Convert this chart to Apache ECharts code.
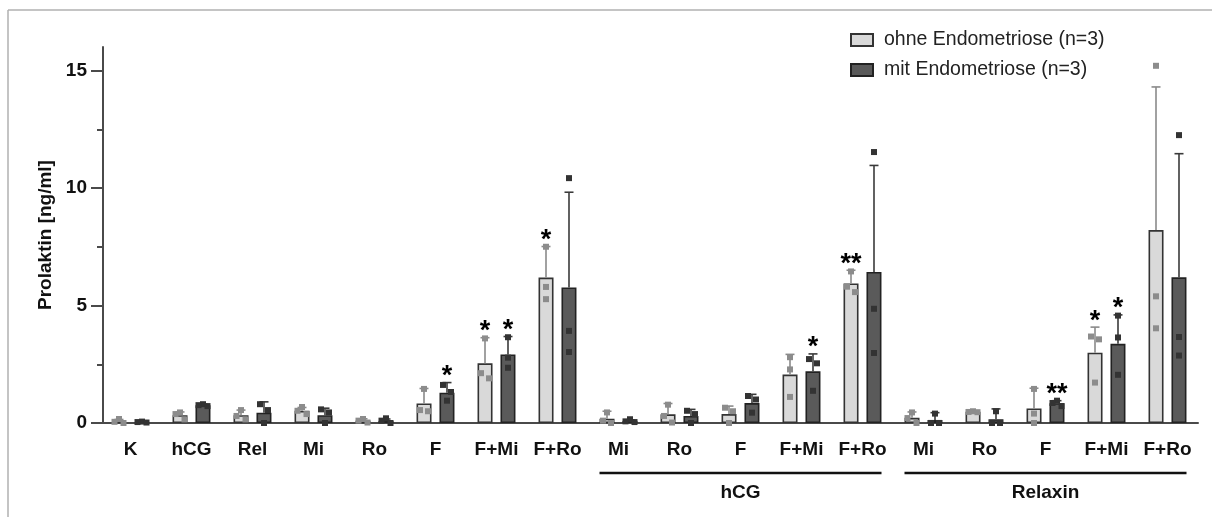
<!DOCTYPE html>
<html><head><meta charset="utf-8">
<script src="https://cdn.jsdelivr.net/npm/echarts@6/dist/echarts.min.js"></script>
<style>html,body{margin:0;padding:0;background:#fff}#c{width:1212px;height:517px}</style>
</head><body><div id="c"></div>
<script>
// ---- data ----
const categories = ['K','hCG','Rel','Mi','Ro','F','F+Mi','F+Ro','Mi','Ro','F','F+Mi','F+Ro','Mi','Ro','F','F+Mi','F+Ro'];
const seriesNames = ['ohne Endometriose (n=3)', 'mit Endometriose (n=3)'];
const yTicks = [0, 5, 10, 15];
const yMinorTicks = [2.5, 7.5, 12.5];

const lightMean = [0.05, 0.33, 0.33, 0.52, 0.10, 0.83, 2.54, 6.19, 0.18, 0.37, 0.38, 2.06, 5.94, 0.22, 0.48, 0.62, 2.99, 8.21];
const lightErrTop = [0.15, 0.47, 0.55, 0.66, 0.18, 1.47, 3.63, 7.51, 0.50, 0.83, 0.72, 2.92, 6.50, 0.47, 0.52, 1.48, 4.08, 14.30];
const lightPoints = [[0.17,0.05,0.00],[0.45,0.38,0.15],[0.55,0.30,0.15],[0.68,0.52,0.38],[0.17,0.10,0.02],[1.45,0.55,0.50],[3.60,2.12,1.90],[7.50,5.79,5.27],[0.45,0.10,0.00],[0.78,0.30,0.02],[0.65,0.50,0.00],[2.80,2.28,1.11],[6.45,5.80,5.57],[0.45,0.21,0.00],[0.50,0.47,0.46],[1.45,0.40,0.00],[3.68,3.56,1.72],[15.20,5.39,4.03]];
const lightStars = ['','','','','','','*','*','','','','','**','','','','*',''];

const darkMean = [0.04, 0.76, 0.44, 0.33, 0.09, 1.29, 2.92, 5.77, 0.09, 0.30, 0.85, 2.20, 6.43, 0.13, 0.16, 0.84, 3.37, 6.20];
const darkErrTop = [0.06, 0.80, 0.90, 0.63, 0.17, 1.72, 3.68, 9.82, 0.13, 0.58, 1.22, 2.94, 10.96, 0.44, 0.60, 0.95, 4.60, 11.46];
const darkPoints = [[0.06,0.04,0.02],[0.80,0.76,0.72],[0.80,0.55,0.00],[0.58,0.45,0.00],[0.20,0.10,0.00],[1.62,1.32,0.95],[3.65,2.78,2.35],[10.42,3.92,3.02],[0.16,0.07,0.04],[0.52,0.38,0.00],[1.15,1.00,0.44],[2.72,2.54,1.37],[11.53,4.86,2.98],[0.40,0.00,0.00],[0.50,0.00,0.00],[0.95,0.85,0.72],[4.57,3.64,2.05],[12.25,3.66,2.87]];
const darkStars = ['','','','','','*','*','','','','','*','','','','**','*',''];

const groupBrackets = [{label:'hCG', from:8, to:12}, {label:'Relaxin', from:13, to:17}];

// ---- styling ----
const FONT = '"Liberation Sans", Arial, Helvetica, sans-serif';
const LIGHT = {fill:'#d9d9d9', border:'#333333', err:'#8a8a8a', pt:'#8c8c8c'};
const DARK = {fill:'#5a5a5a', border:'#222222', err:'#3a3a3a', pt:'#333333'};
const BAR_W = 15, BAR_OFF = 11.5;

function spread(pts){
  const close = 0.35, o = [0,0,0];
  const c01 = Math.abs(pts[0]-pts[1]) < close, c12 = Math.abs(pts[1]-pts[2]) < close;
  if (c01 && c12) { o[0]=0; o[1]=-4.5; o[2]=4.5; }
  else if (c01) { o[0]=-4; o[1]=4; }
  else if (c12) { o[1]=-4; o[2]=4; }
  return o;
}
function pointData(points){
  const d = [];
  points.forEach((p,i)=>{ const o = spread(p); p.forEach((v,j)=>d.push([i, v, o[j]])); });
  return d;
}
function errSeries(mean, top, dx, color){
  return {type:'custom', z:3, silent:true,
    data: mean.map((m,i)=>[i, top[i], m]),
    renderItem:(params, api)=>{
      const i = api.value(0);
      const t = api.coord([i, api.value(1)]), b = api.coord([i, api.value(2)]);
      const x = t[0] + dx;
      return {type:'group', children:[
        {type:'line', shape:{x1:x, y1:b[1], x2:x, y2:t[1]}, style:{stroke:color, lineWidth:1.6}},
        {type:'line', shape:{x1:x-4.5, y1:t[1], x2:x+4.5, y2:t[1]}, style:{stroke:color, lineWidth:1.6}}
      ]};
    }};
}
function ptSeries(points, dx, color){
  return {type:'custom', z:4, silent:true, data: pointData(points),
    renderItem:(params, api)=>{
      const p = api.coord([api.value(0), api.value(1)]);
      const x = p[0] + dx + api.value(2);
      return {type:'rect', shape:{x:x-3, y:p[1]-3, width:6, height:6}, style:{fill:color}};
    }};
}
function starSeries(stars, top, dx){
  const idx = stars.map((s,i)=>s?i:-1).filter(i=>i>=0);
  return {type:'custom', z:5, silent:true, data: idx.map(i=>[i, top[i]]),
    renderItem:(params, api)=>{
      const i = api.value(0);
      const p = api.coord([i, api.value(1)]);
      return {type:'text', x:p[0]+dx, y:p[1]-6, style:{text:stars[i], fill:'#000', font:'bold 27px '+FONT, align:'center', verticalAlign:'middle'}};
    }};
}

const chart = echarts.init(document.getElementById('c'));
const option = {
  animation:false,
  grid:{left:100, right:14, top:47, bottom:94},
  legend:{orient:'vertical', left:845, top:25, itemWidth:22, itemHeight:12, itemGap:10, icon:'rect',
    data:seriesNames, selectedMode:false,
    textStyle:{fontFamily:FONT, fontSize:19.5, color:'#222', padding:[0,0,0,6]}},
  xAxis:{type:'category', data:categories.map((c,i)=>String(i)),
    axisLine:{lineStyle:{color:'#4a4a4a', width:2}},
    axisTick:{alignWithLabel:true, length:12, lineStyle:{color:'#4a4a4a', width:2}},
    axisLabel:{formatter:(v,i)=>categories[i], fontFamily:FONT, fontWeight:'bold', fontSize:19, color:'#111', margin:17, interval:0}},
  yAxis:[
    {type:'value', min:0, max:16, offset:-3,
     name:'Prolaktin [ng/ml]', nameLocation:'middle', nameGap:48,
     nameTextStyle:{fontFamily:FONT, fontWeight:'bold', fontSize:19, color:'#111'},
     axisLine:{show:true, lineStyle:{color:'#4a4a4a', width:2}},
     axisTick:{show:true, length:12, customValues:yTicks, lineStyle:{color:'#4a4a4a', width:2}},
     axisLabel:{customValues:yTicks, fontFamily:FONT, fontWeight:'bold', fontSize:19, color:'#111', margin:16},
     splitLine:{show:false}},
    {type:'value', min:0, max:16, offset:-3, position:'left',
     axisLine:{show:false},
     axisTick:{show:true, length:6, customValues:yMinorTicks, lineStyle:{color:'#4a4a4a', width:2}},
     axisLabel:{show:false}, splitLine:{show:false}}
  ],
  series:[
    {name:seriesNames[0], type:'bar', data:lightMean, barWidth:BAR_W, barGap:'53%', z:2,
     itemStyle:{color:LIGHT.fill, borderColor:LIGHT.border, borderWidth:1.6}},
    {name:seriesNames[1], type:'bar', data:darkMean, barWidth:BAR_W, barGap:'53%', z:2,
     itemStyle:{color:DARK.fill, borderColor:DARK.border, borderWidth:1.6}},
    errSeries(lightMean, lightErrTop, -BAR_OFF, LIGHT.err),
    errSeries(darkMean, darkErrTop, BAR_OFF, DARK.err),
    ptSeries(lightPoints, -BAR_OFF, LIGHT.pt),
    ptSeries(darkPoints, BAR_OFF, DARK.pt),
    starSeries(lightStars, lightErrTop, -BAR_OFF),
    starSeries(darkStars, darkErrTop, BAR_OFF)
  ]
};
chart.setOption(option);

// frame and group brackets (positions from the axis scale)
const g = [
  {type:'line', shape:{x1:8, y1:10, x2:1212, y2:10}, style:{stroke:'#b0b0b0', lineWidth:1.5}, silent:true},
  {type:'line', shape:{x1:8, y1:10, x2:8, y2:517}, style:{stroke:'#b0b0b0', lineWidth:1.5}, silent:true}
];
const baseY = chart.convertToPixel({yAxisIndex:0}, 0);
groupBrackets.forEach(b=>{
  const x1 = chart.convertToPixel({xAxisIndex:0}, String(b.from)) - 19;
  const x2 = chart.convertToPixel({xAxisIndex:0}, String(b.to)) + 19;
  g.push({type:'line', shape:{x1:x1, y1:baseY+50, x2:x2, y2:baseY+50}, style:{stroke:'#111', lineWidth:2.5}, silent:true});
  g.push({type:'text', x:(x1+x2)/2, y:baseY+70, style:{text:b.label, fill:'#111', font:'bold 19px '+FONT, align:'center', verticalAlign:'middle'}, silent:true});
});
chart.setOption({graphic:g});
</script>
</body></html>
